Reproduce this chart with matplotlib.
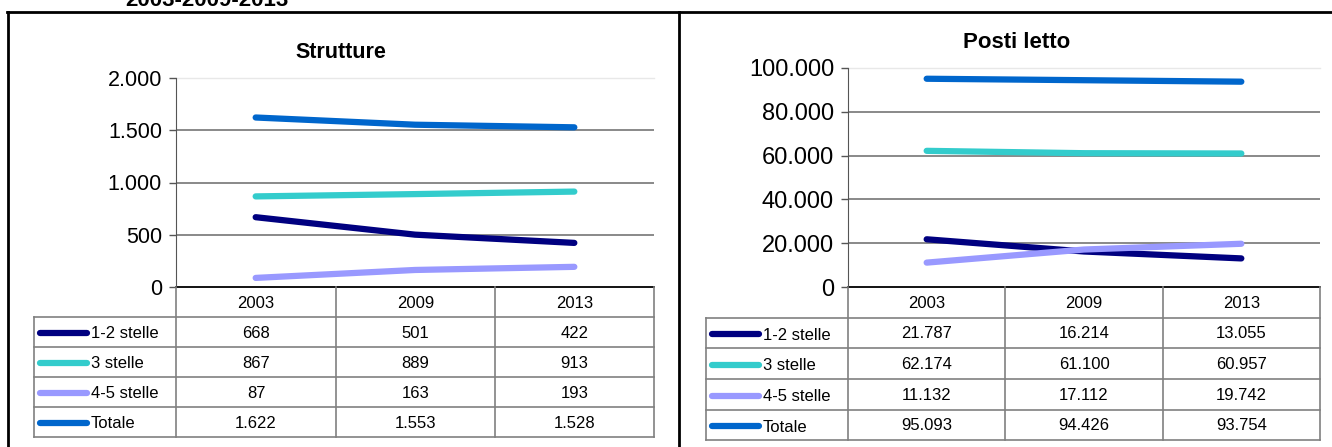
import numpy as np
import matplotlib.pyplot as plt
from matplotlib.ticker import FuncFormatter

plt.rcParams['font.family'] = ['Liberation Sans', 'DejaVu Sans']

# data
anni = ['2003', '2009', '2013']
serie = ['1-2 stelle', '3 stelle', '4-5 stelle', 'Totale']
colori = ['#000080', '#33CCCC', '#9999FF', '#0066CC']

strutture_12 = [668, 501, 422]
strutture_3 = [867, 889, 913]
strutture_45 = [87, 163, 193]
strutture_tot = [1622, 1553, 1528]

posti_12 = [21787, 16214, 13055]
posti_3 = [62174, 61100, 60957]
posti_45 = [11132, 17112, 19742]
posti_tot = [95093, 94426, 93754]

W, H = 1332, 447


def punti(v, pos=None):
    return '{:,.0f}'.format(v).replace(',', '.')


def grafico(fig, over, titolo, valori, ymax, ystep, xl, x_cols, y_top, y_rows,
            tick_size, title_xy, title_size):
    # plot area in pixel coordinates of the figure
    x0, x1 = x_cols[1], x_cols[-1]
    y0 = y_rows[0]
    ax = fig.add_axes([x0 / W, 1 - y0 / H, (x1 - x0) / W, (y0 - y_top) / H])
    xs = np.arange(len(anni)) + 0.5
    for vals, c in zip(valori, colori):
        ax.plot(xs, vals, color=c, lw=4.5, solid_capstyle='round',
                solid_joinstyle='round', zorder=3)
    ax.set_xlim(0, len(anni))
    ax.set_ylim(0, ymax)
    ticks = np.arange(0, ymax + 1, ystep)
    ax.set_yticks(ticks)
    ax.yaxis.set_major_formatter(FuncFormatter(punti))
    ax.set_xticks([])
    for t in ticks[1:-1]:
        ax.axhline(t, color='#808080', lw=1.3, zorder=1)
    ax.axhline(ymax, color='#e8e8e8', lw=1, zorder=1, clip_on=False)
    for s in ['top', 'right']:
        ax.spines[s].set_visible(False)
    ax.spines['left'].set_color('#555555')
    ax.spines['bottom'].set_color('black')
    ax.spines['bottom'].set_linewidth(1.3)
    ax.tick_params(axis='y', direction='out', length=5, width=1,
                   color='#555555', labelsize=tick_size, pad=5)
    ax.set_facecolor('none')

    over.text(title_xy[0], title_xy[1], titolo, ha='center', va='center',
              fontsize=title_size, fontweight='bold')

    # data table under the plot
    g = dict(color='#808080', lw=1.2)
    for y in y_rows[1:]:
        over.plot([xl, x1], [y, y], **g)
    for x in x_cols[1:]:
        over.plot([x, x], [y_rows[0], y_rows[-1]], **g)
    over.plot([xl, xl], [y_rows[1], y_rows[-1]], **g)
    for j, a in enumerate(anni):
        over.text((x_cols[j + 1] + x_cols[j + 2]) / 2, (y_rows[0] + y_rows[1]) / 2 + 1,
                  a, ha='center', va='center', fontsize=12)
    for i, (nome, vals, c) in enumerate(zip(serie, valori, colori)):
        yc = (y_rows[i + 1] + y_rows[i + 2]) / 2 + 1
        over.plot([xl + 6, xl + 53], [yc, yc], color=c, lw=4.5,
                  solid_capstyle='round')
        over.text(xl + 57, yc + 1, nome, ha='left', va='center', fontsize=12)
        for j, v in enumerate(vals):
            over.text((x_cols[j + 1] + x_cols[j + 2]) / 2, yc, punti(v),
                      ha='center', va='center', fontsize=12)
    return ax


fig = plt.figure(figsize=(W / 100, H / 100), dpi=100)
over = fig.add_axes([0, 0, 1, 1], zorder=5)
over.set_xlim(0, W)
over.set_ylim(H, 0)
over.axis('off')
over.patch.set_alpha(0)

# page frame
over.plot([7, W], [12, 12], color='black', lw=2)
over.plot([8, 8], [12, H], color='black', lw=2)
over.plot([679, 679], [12, H], color='black', lw=2)
over.text(125, 6, '2003-2009-2013', ha='left', va='baseline',
          fontsize=16, fontweight='bold')

grafico(fig, over, 'Strutture',
        [strutture_12, strutture_3, strutture_45, strutture_tot],
        2000, 500, 34, [34, 176, 336, 495, 654], 78,
        [287, 317, 347, 377, 407, 437], 15.5, (341, 52), 15.5)

grafico(fig, over, 'Posti letto',
        [posti_12, posti_3, posti_45, posti_tot],
        100000, 20000, 706, [706, 848, 1005, 1163, 1320], 68,
        [287, 318, 348, 379, 410, 440], 17, (1017, 43), 16)

fig.savefig('out.png', dpi=100)
